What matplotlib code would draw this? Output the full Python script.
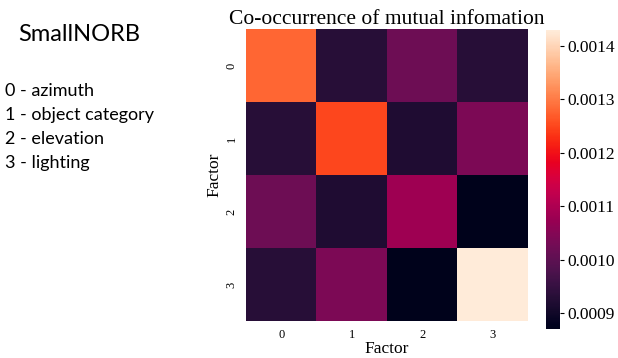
import numpy as np
import matplotlib
matplotlib.use('Agg')
import matplotlib.pyplot as plt
import matplotlib.colors as mcolors
import seaborn as sns

# values (symmetric co-occurrence matrix)
factors = ['0', '1', '2', '3']
row0 = [0.00128, 0.00093, 0.00102, 0.00093]
row1 = [0.00093, 0.00125, 0.00092, 0.00104]
row2 = [0.00102, 0.00092, 0.00108, 0.00087]
row3 = [0.00093, 0.00104, 0.00087, 0.00143]
cbar_ticks = [0.0009, 0.0010, 0.0011, 0.0012, 0.0013, 0.0014]
legend_lines = ['0 - azimuth', '1 - object category', '2 - elevation',
                '3 - lighting']

serif = 'Liberation Serif'
plt.rcParams['font.family'] = serif


def vivid_rocket():
    # the reference looks like rocket with a bit more saturation
    base = sns.color_palette('rocket', 256)
    hsv = mcolors.rgb_to_hsv(np.array(base))
    hsv[:, 1] = np.clip(hsv[:, 1] * 1.25, 0, 1)
    hsv[:, 2] = np.clip(hsv[:, 2] * 1.05, 0, 1)
    return mcolors.ListedColormap(mcolors.hsv_to_rgb(hsv))


def main():
    mat = np.array([row0, row1, row2, row3])

    fig = plt.figure(figsize=(6.18, 3.58), dpi=100)
    ax = fig.add_axes([0.398, 0.1034, 0.456, 0.8156])
    cax = fig.add_axes([0.883, 0.081, 0.0231, 0.835])

    sns.heatmap(mat, ax=ax, cbar_ax=cax, cmap=vivid_rocket(),
                xticklabels=factors, yticklabels=factors)
    ax.set_title("Co-occurrence of mutual infomation", fontsize=15.5, pad=3)
    ax.set_xlabel("Factor", fontsize=12.5, labelpad=0)
    ax.set_ylabel("Factor", fontsize=12.5, labelpad=2)
    ax.tick_params(length=0, labelsize=9, pad=6)
    for lab in ax.get_yticklabels():
        lab.set_rotation(90)
        lab.set_va('center')

    cax.set_yticks(cbar_ticks)
    cax.set_yticklabels(["{:.4f}".format(t) for t in cbar_ticks])
    cax.tick_params(length=3, width=0.8, labelsize=12.5, pad=2)
    for sp in cax.spines.values():
        sp.set_visible(False)

    # text panel on the left
    fig.text(0.029, 0.905, "SmallNORB", family='Lato', fontsize=17,
             va='center', ha='left')
    for i, line in enumerate(legend_lines):
        fig.text(0.008, 0.747 - i * 0.067, line, family='Lato',
                 fontsize=13, va='center', ha='left')

    plt.savefig('out.png', dpi=100)


if __name__ == '__main__':
    main()
